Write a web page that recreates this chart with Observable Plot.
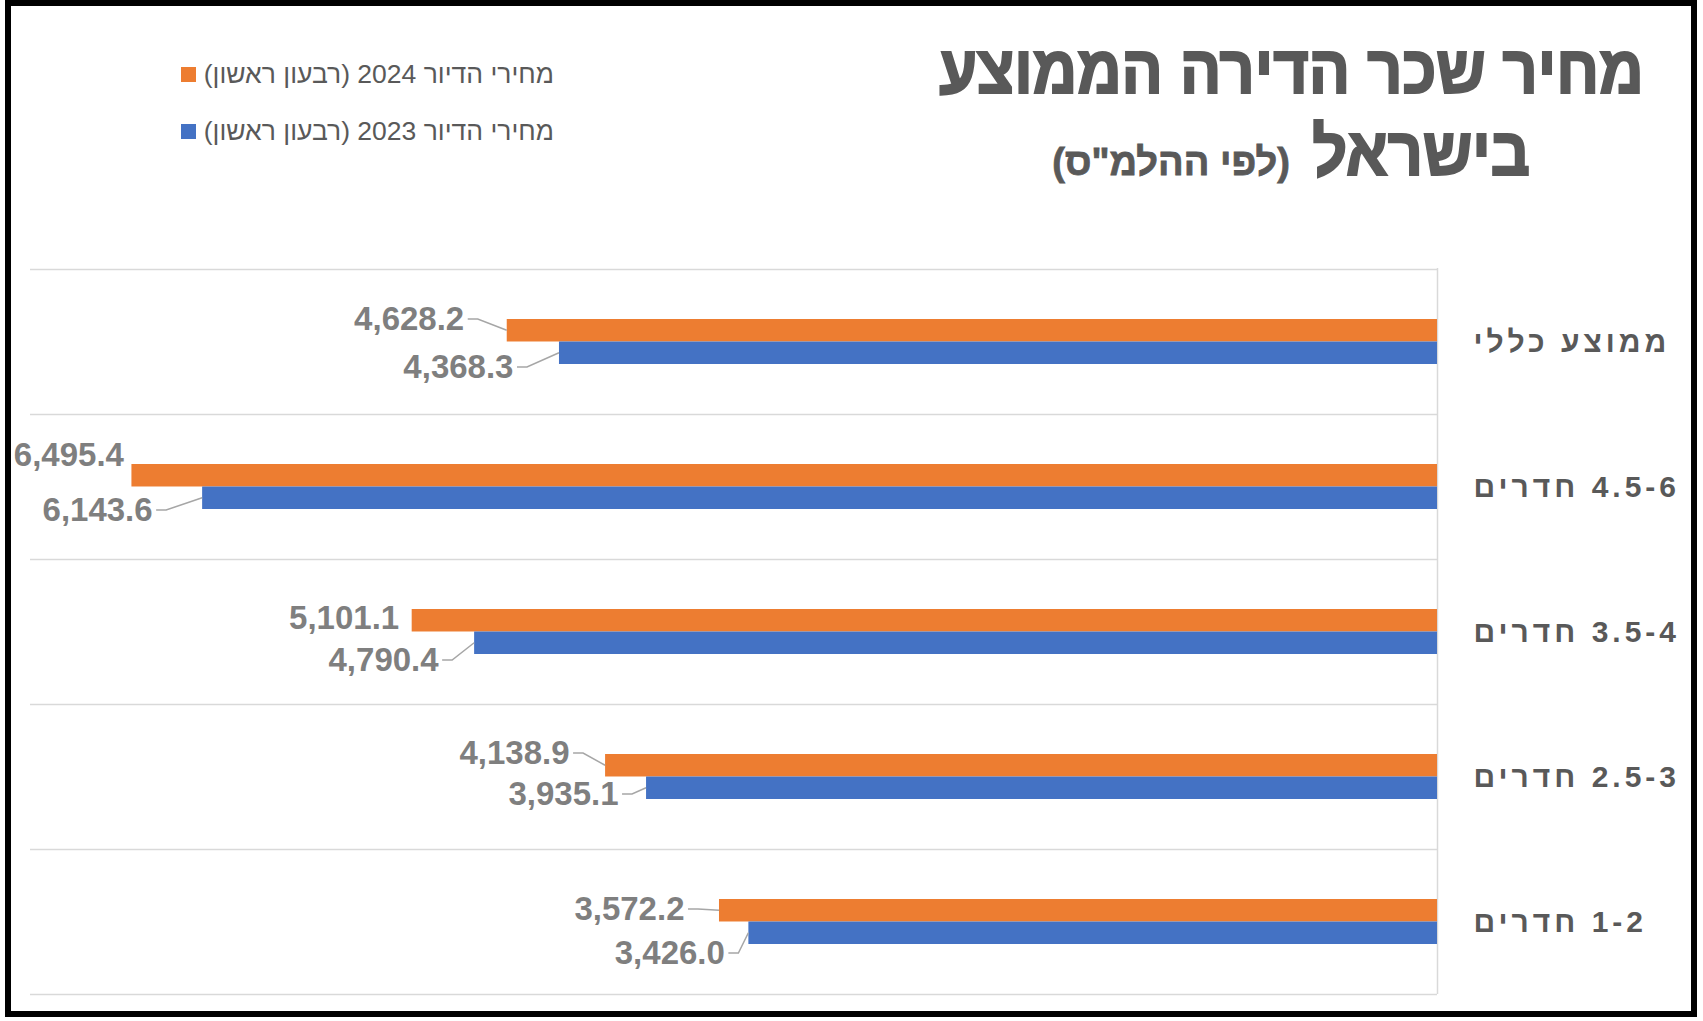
<!DOCTYPE html>
<html>
<head>
<meta charset="utf-8">
<script src="https://cdn.jsdelivr.net/npm/d3@7"></script>
<script src="https://cdn.jsdelivr.net/npm/@observablehq/plot@0.6"></script>
<style>
html,body{margin:0;padding:0;background:#fff;}
#page{position:relative;width:1703px;height:1021px;overflow:hidden;background:#fff;font-family:"Liberation Sans",Arial,sans-serif;}
#frame{position:absolute;left:5px;top:0;width:1692px;height:1017px;border:6px solid #000;box-sizing:border-box;pointer-events:none;z-index:5;}
#chart{position:absolute;left:0;top:0;}
.t{position:absolute;direction:rtl;color:#595959;font-weight:bold;white-space:nowrap;line-height:1;text-align:center;left:791px;width:1000px;}
#t1{top:35px;font-size:68px;}
#t1 span, #t2 .big{display:inline-block;transform:scaleX(0.9);-webkit-text-stroke:2.2px #595959;}
#t2{top:117px;font-size:68px;}
#t2 .big{transform-origin:right center;}
#t2 .small{font-size:38px;margin-right:-2px;-webkit-text-stroke:0.8px #595959;}
.leg{position:absolute;right:1149px;direction:rtl;display:flex;align-items:center;gap:8px;font-size:26.5px;color:#595959;line-height:30px;white-space:nowrap;}
.sw{display:inline-block;width:15px;height:15px;}
</style>
</head>
<body>
<div id="page">
  <div id="t1" class="t"></div>
  <div id="t2" class="t"></div>
  <div id="leg1" class="leg" style="top:59px"></div>
  <div id="leg2" class="leg" style="top:116px"></div>
  <div id="chart"></div>
  <div id="frame"></div>
</div>
<script>
// ---- data ----
const categories = ["ממוצע כללי", "4.5-6 חדרים", "3.5-4 חדרים", "2.5-3 חדרים", "1-2 חדרים"];
const price2024 = [4628.2, 6495.4, 5101.1, 4138.9, 3572.2];
const price2023 = [4368.3, 6143.6, 4790.4, 3935.1, 3426.0];
const seriesNames = ["מחירי הדיור 2024 (רבעון ראשון)", "מחירי הדיור 2023 (רבעון ראשון)"];
const titleLine1 = "מחיר שכר הדירה הממוצע";
const titleLine2 = "בישראל";
const titleNote = "(לפי ההלמ\"ס)";

// ---- style ----
const colors = ["#ED7D31", "#4472C4"];
// label nudges in pixels (dx from bar end, dy from bar outer edge)
const nudge2024 = [[-43, 0], [-8, -9], [-13, 9], [-36, -1], [-35, 10]];
const nudge2023 = [[-46, 3], [-50, 1], [-36, 6], [-28, -5], [-24, 9]];

const RLM = "\u200F";
{
  const t1 = document.getElementById("t1");
  const s = document.createElement("span"); s.textContent = titleLine1; t1.appendChild(s);
  const t2 = document.getElementById("t2");
  const a = document.createElement("span"); a.className = "big"; a.textContent = titleLine2; t2.appendChild(a);
  const b = document.createElement("span"); b.className = "small"; b.textContent = titleNote; t2.appendChild(b);
}
[["leg1", 0], ["leg2", 1]].forEach(([id, k]) => {
  const el = document.getElementById(id);
  const s = document.createElement("span"); s.textContent = seriesNames[k]; el.appendChild(s);
  const sw = document.createElement("span"); sw.className = "sw"; sw.style.background = colors[k]; el.appendChild(sw);
});

const W = 1703, H = 1021;
const mTop = 268, mBottom = 27, mLeft = 30, mRight = 266;
const step = (H - mTop - mBottom) / categories.length;
const pInner = 0.69;
const bandW = step * (1 - pInner);
const half = bandW / 2;

const rows = categories.map((c, i) => ({c, v24: price2024[i], v23: price2023[i]}));
const fmt = d3.format(",.1f");
const labelFont = "'Liberation Sans',Arial,sans-serif";

const labelMarks = rows.flatMap((r, i) => [
  Plot.text([r], {x: "v24", y: "c", text: d => fmt(d.v24), textAnchor: "end",
    dx: nudge2024[i][0], dy: -half + nudge2024[i][1],
    fontSize: 33, fontWeight: "bold", fill: "#7F7F7F", fontFamily: labelFont}),
  Plot.text([r], {x: "v23", y: "c", text: d => fmt(d.v23), textAnchor: "end",
    dx: nudge2023[i][0], dy: half + nudge2023[i][1],
    fontSize: 33, fontWeight: "bold", fill: "#7F7F7F", fontFamily: labelFont})
]);

const chart = Plot.plot({
  width: W, height: H,
  marginTop: mTop, marginBottom: mBottom, marginLeft: mLeft, marginRight: mRight,
  style: {background: "transparent", overflow: "visible"},
  x: {domain: [0, 7000], reverse: true, axis: null},
  y: {domain: categories, paddingInner: pInner, paddingOuter: pInner / 2, axis: null},
  marks: [
    Plot.ruleY(categories, {y: d => d, x1: 0, x2: 7000, dy: -step / 2, stroke: "#D9D9D9", strokeWidth: 1.5}),
    Plot.ruleY(categories.slice(-1), {y: d => d, x1: 0, x2: 7000, dy: step / 2, stroke: "#D9D9D9", strokeWidth: 1.5}),
    Plot.ruleX([0], {stroke: "#D9D9D9", strokeWidth: 1.5}),
    Plot.barX(rows, {x1: 0, x2: "v24", y: "c", fill: colors[0], insetBottom: half}),
    Plot.barX(rows, {x1: 0, x2: "v23", y: "c", fill: colors[1], insetTop: half}),
    Plot.text(categories, {y: d => d, frameAnchor: "right", dx: 36, textAnchor: "start",
      text: d => RLM + d, fontSize: 30, fontWeight: "bold", fill: "#595959",
      fontFamily: "'Liberation Sans',Arial,sans-serif"}),
    ...labelMarks
  ]
});
document.getElementById("chart").appendChild(chart);

// letter spacing tweak for category labels
d3.select(chart).selectAll("text").each(function() {
  if (this.textContent.startsWith(RLM)) this.style.letterSpacing = "4px";
});

// leader lines via the chart's own scales
const xs = chart.scale("x"), ys = chart.scale("y");
const bw = ys.bandwidth;
const g = d3.select(chart).append("g").attr("fill", "none").attr("stroke", "#A6A6A6").attr("stroke-width", 1.5);
rows.forEach((r, i) => {
  const y0 = ys.apply(r.c);
  const yc = y0 + bw / 2;
  [[r.v24, nudge2024[i], yc - bw / 2, y0 + bw / 4], [r.v23, nudge2023[i], yc + bw / 2, y0 + 3 * bw / 4]].forEach(([v, n, edge, mid]) => {
    if (n[0] > -20) return;
    const xe = xs.apply(v);
    const lx = xe + n[0] + 4;
    const ly = edge + n[1];
    g.append("path").attr("d", `M${lx},${ly}H${lx + 10}L${xe},${mid}`);
  });
});
</script>
</body>
</html>
